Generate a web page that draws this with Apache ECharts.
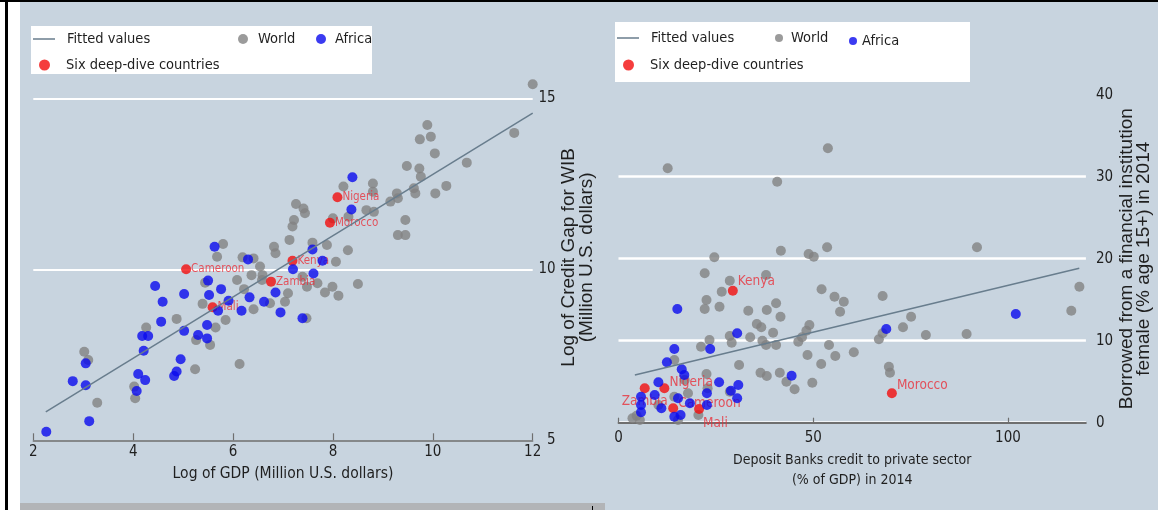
<!DOCTYPE html>
<html>
<head>
<meta charset="utf-8">
<title>Credit gap and borrowing</title>
<script src="https://cdn.jsdelivr.net/npm/echarts@6/dist/echarts.min.js"></script>
<style>
  html, body { margin: 0; padding: 0; background: #fff; }
  #chart { width: 1158px; height: 510px; }
</style>
</head>
<body>
<div id="chart"></div>
<script>
// ---- Left panel: log GDP vs log credit gap for women-owned businesses ----
const worldGdpGap = [
  [12.00,15.41],[11.63,13.99],[9.89,14.22],[9.74,13.80],[9.96,13.88],[10.04,13.39],[10.68,13.12],
  [10.27,12.44],[9.48,13.02],[9.73,12.95],[9.76,12.71],[9.62,12.37],[9.65,12.22],[10.05,12.22],
  [9.28,12.22],[9.15,11.98],[9.30,12.08],[8.80,12.51],[8.80,12.27],[8.67,11.73],[8.82,11.68],
  [9.45,11.44],[9.45,11.00],[9.30,11.00],[8.21,12.42],[8.00,11.49],[8.31,11.54],[7.26,11.91],
  [7.41,11.78],[7.44,11.64],[7.22,11.44],[7.19,11.25],[7.13,10.86],[7.59,10.78],[7.88,10.71],
  [8.30,10.56],[6.82,10.66],[6.85,10.47],[5.68,10.37],[6.19,10.35],[6.41,10.32],[6.54,10.08],
  [6.37,9.83],[6.08,9.69],[6.22,9.42],[6.58,9.69],[7.39,9.78],[7.48,9.49],[7.69,9.59],[7.84,9.32],
  [7.99,9.49],[8.11,9.23],[8.50,9.57],[8.06,10.22],[7.10,9.30],[7.04,9.05],[6.74,9.01],[6.41,8.83],
  [5.85,8.52],[5.65,8.30],[5.39,8.99],[4.87,8.55],[5.26,7.93],[5.54,7.79],[5.24,7.08],[6.13,7.23],
  [4.26,8.30],[3.02,7.59],[3.10,7.35],[4.02,6.57],[4.04,6.23],[3.28,6.10],[5.80,10.74],[6.59,9.83],
  [7.47,8.57],[5.44,9.61]
];
const africaGdpGap = [
  [8.39,12.69],[8.37,11.75],[5.63,10.66],[7.59,10.58],[6.30,10.29],[7.79,10.25],[7.20,10.00],
  [7.61,9.88],[5.50,9.67],[4.44,9.51],[5.02,9.28],[5.52,9.25],[5.76,9.42],[5.91,9.08],[6.33,9.18],
  [6.62,9.05],[6.85,9.32],[6.95,8.74],[6.17,8.79],[5.70,8.79],[4.59,9.05],[4.56,8.47],[5.02,8.20],
  [5.48,8.37],[5.30,8.08],[5.48,7.98],[4.18,8.05],[4.30,8.05],[4.21,7.62],[4.95,7.37],[4.87,7.01],
  [4.82,6.88],[4.10,6.94],[4.24,6.76],[4.07,6.44],[3.05,7.25],[2.79,6.73],[3.05,6.61],[3.12,5.56],
  [2.26,5.25],[7.39,8.57]
];
const fitGdpGap = [[2.25,5.83],[12.0,14.57]];

// ---- Right panel: bank credit to private sector vs women borrowing ----
const worldCreditBorrow = [
  [12.63,31.02],[53.76,33.46],[40.74,29.39],[24.60,20.17],[41.69,20.98],[48.81,20.57],[50.14,20.24],
  [53.56,21.39],[92.04,21.39],[22.13,18.22],[28.57,17.32],[37.89,18.01],[26.50,15.98],[22.59,14.96],
  [22.13,13.87],[25.93,14.15],[33.32,13.66],[38.07,13.74],[40.46,14.56],[41.59,12.93],[52.14,16.27],
  [55.46,15.37],[57.84,14.76],[56.89,13.54],[67.81,15.45],[75.12,12.93],[73.04,11.63],[78.92,10.70],
  [89.37,10.82],[116.25,13.66],[118.33,16.59],[35.51,12.04],[36.66,11.63],[33.81,10.41],[36.94,10.00],
  [37.89,9.48],[39.69,10.98],[40.46,9.48],[49.01,11.91],[48.24,11.22],[47.11,10.41],[46.16,9.88],
  [48.52,8.26],[52.04,7.16],[54.04,9.48],[55.66,8.13],[60.41,8.59],[66.85,10.17],[67.81,10.90],
  [69.42,6.83],[69.70,6.10],[28.57,10.57],[29.06,9.76],[30.96,7.04],[23.36,10.09],[21.18,9.27],
  [36.46,6.10],[38.07,5.70],[41.41,6.10],[43.11,5.00],[45.21,4.07],[49.76,4.88],[14.33,7.65],
  [22.59,5.94],[17.00,5.21],[17.84,3.59],[14.33,3.17],[4.65,0.85],[3.59,0.54],[5.49,0.33],
  [20.51,0.94],[15.28,0.33],[10.24,2.16],[22.88,4.20],[28.57,3.78]
];
const africaCreditBorrow = [
  [15.10,13.87],[30.47,10.90],[14.33,8.99],[23.54,8.99],[12.43,7.37],[16.23,6.51],[16.89,5.82],
  [10.24,4.93],[9.29,3.38],[5.78,3.17],[5.78,2.16],[5.78,1.27],[11.01,1.76],[15.28,2.98],
  [14.33,0.73],[15.94,0.94],[18.33,2.37],[22.70,3.59],[22.70,2.16],[25.83,4.93],[28.86,3.90],
  [30.76,4.60],[30.47,2.98],[44.44,5.73],[68.75,11.43],[102.0,13.26]
];
const fitCreditBorrow = [[4.2,5.82],[118.3,18.83]];

// ---- Six deep-dive countries (same order in every list) ----
const sixNames = ['Nigeria', 'Morocco', 'Cameroon', 'Kenya', 'Zambia', 'Mali'];
const sixGdp = [8.09, 7.94, 5.06, 7.19, 6.76, 5.59];
const sixGap = [12.11, 11.36, 10.00, 10.25, 9.64, 8.89];
const sixCredit = [11.78, 70.19, 14.04, 29.35, 6.73, 20.69];
const sixBorrow = [4.20, 3.59, 1.76, 16.10, 4.20, 1.67];

// ---- Axis ticks ----
const gdpTicks = { min: 2, max: 12, step: 2 };
const gapTicks = { min: 5, max: 15.7, step: 5 };
const creditTicks = { min: 0, max: 120, step: 50 };
const borrowTicks = { min: 0, max: 40, step: 10 };

// ---- Styling ----
const FONT = "'DejaVu Sans Condensed', 'Liberation Sans', Arial, sans-serif";
const FONT_V = "'Liberation Sans', Arial, sans-serif";
const BG = '#c8d4df';
const GREY = '#828282';
const BLUE = '#0a0aee';
const RED = '#f20c0c';
const LABEL_RED = '#e8303a';
const FIT = '#687d8d';
const AXIS = '#6f6f6f';
const TEXT = '#1f1f1f';

// label placement of the country names in the right panel
const rightLabelPlacement = {
  Kenya:    { position: 'right', distance: 0, offset: [0, -9] },
  Nigeria:  { position: [10, -1], align: 'left', verticalAlign: 'middle' },
  Zambia:   { position: 'bottom', distance: 1 },
  Cameroon: { position: 'right', distance: 0, offset: [0, -5] },
  Mali:     { position: [9, 19], align: 'left', verticalAlign: 'middle' },
  Morocco:  { position: 'right', distance: 0, offset: [0, -8] }
};

const sixLeft = sixNames.map((n, i) => ({ name: n, value: [sixGdp[i], sixGap[i]] }));
const sixRight = sixNames.map((n, i) => ({
  name: n, value: [sixCredit[i], sixBorrow[i]],
  label: Object.assign({ show: true }, rightLabelPlacement[n])
}));

const chart = echarts.init(document.getElementById('chart'), null, { renderer: 'canvas' });

function legendItem(name, left, top, iconW, iconH, pad, extra) {
  return Object.assign({
    data: [name], left: left, top: top, padding: 0, orient: 'horizontal',
    selectedMode: false, itemGap: 0, itemWidth: iconW, itemHeight: iconH,
    textStyle: { fontFamily: FONT, fontSize: 14.5, color: TEXT, lineHeight: 18, padding: pad }
  }, extra || {});
}
const lineIcon = { icon: 'rect' };

const option = {
  backgroundColor: '#ffffff',
  animation: false,
  graphic: [
    { type: 'rect', z: 0, shape: { x: 20, y: 2, width: 1138, height: 508 }, style: { fill: BG } },
    { type: 'rect', z: 0, shape: { x: 20, y: 503, width: 585, height: 7 }, style: { fill: '#b2b4b7' } },
    { type: 'rect', z: 0, shape: { x: 592, y: 506, width: 1, height: 4 }, style: { fill: '#000' } },
    { type: 'rect', z: 0, shape: { x: 0, y: 0, width: 1158, height: 2 }, style: { fill: '#000' } },
    { type: 'rect', z: 0, shape: { x: 5, y: 0, width: 3, height: 510 }, style: { fill: '#000' } },
    { type: 'rect', z: 1, shape: { x: 31, y: 26, width: 341, height: 48 }, style: { fill: '#fff' } },
    { type: 'rect', z: 1, shape: { x: 615, y: 22, width: 355, height: 60 }, style: { fill: '#fff' } }
  ],
  legend: [
    legendItem('Fitted values', 33, 30, 22, 1.5, [0, 0, 0, 7], lineIcon),
    legendItem('World', 238, 30, 10, 10, [0, 0, 0, 5]),
    legendItem('Africa', 316, 30, 10, 10, [0, 0, 0, 4]),
    legendItem('Six deep-dive countries', 39, 56, 11, 11, [0, 0, 0, 11]),
    legendItem('Fitted values', 617, 29, 22, 1.5, [0, 0, 0, 7], lineIcon),
    legendItem('World', 775, 29, 8, 8, [0, 0, 0, 3]),
    legendItem('Africa', 849, 29, 8, 8, [0, 0, 6, 0]),
    legendItem('Six deep-dive countries', 623, 56, 11, 11, [0, 0, 0, 11])
  ],
  grid: [
    { left: 33.3, top: 74.4, width: 499.4, bottom: 69.7, containLabel: false },
    { left: 618.5, top: 94.7, width: 467.4, bottom: 87.3, containLabel: false }
  ],
  xAxis: [
    {
      gridIndex: 0, type: 'value', min: gdpTicks.min, max: gdpTicks.max, interval: gdpTicks.step,
      name: 'Log of GDP (Million U.S. dollars)', nameLocation: 'middle', nameGap: 23,
      nameTextStyle: { fontFamily: FONT, fontSize: 15.5, color: TEXT, lineHeight: 19 },
      axisLine: { show: true, lineStyle: { color: AXIS, width: 1.5 } },
      axisTick: { show: true, inside: true, length: 7, lineStyle: { color: AXIS, width: 1.2 } },
      axisLabel: { margin: 4, fontFamily: FONT, fontSize: 15, color: TEXT },
      splitLine: { show: false }
    },
    {
      gridIndex: 1, type: 'value', min: creditTicks.min, max: creditTicks.max, interval: creditTicks.step,
      offset: 3,
      name: 'Deposit Banks credit to private sector\n(% of GDP) in 2014', nameLocation: 'middle', nameGap: 25,
      nameTextStyle: { fontFamily: FONT, fontSize: 14, color: TEXT, lineHeight: 19.5 },
      axisLine: { show: true, lineStyle: { color: AXIS, width: 1.8 } },
      axisTick: { show: true, inside: true, length: 5, lineStyle: { color: AXIS, width: 1.2 } },
      axisLabel: { margin: 5, fontFamily: FONT, fontSize: 15, color: TEXT, showMaxLabel: false },
      splitLine: { show: false }
    }
  ],
  yAxis: [
    {
      gridIndex: 0, type: 'value', position: 'right', min: gapTicks.min, max: gapTicks.max, interval: gapTicks.step,
      name: 'Log of Credit Gap for WIB\n(Million U.S. dollars)', nameLocation: 'middle', nameRotate: 90, nameGap: 26,
      nameTextStyle: { fontFamily: FONT_V, fontSize: 19, color: TEXT, lineHeight: 18 },
      axisLine: { show: false }, axisTick: { show: false },
      axisLabel: { align: 'right', margin: 23, fontFamily: FONT, fontSize: 15, color: TEXT, showMaxLabel: false },
      splitLine: { show: true, showMinLine: false, showMaxLine: false, lineStyle: { color: '#ffffff', width: 2 } }
    },
    {
      gridIndex: 1, type: 'value', position: 'right', min: borrowTicks.min, max: borrowTicks.max, interval: borrowTicks.step,
      name: 'Borrowed from a financial institution\nfemale (% age 15+) in 2014', nameLocation: 'middle', nameRotate: 90, nameGap: 29,
      nameTextStyle: { fontFamily: FONT_V, fontSize: 19, color: TEXT, lineHeight: 17 },
      axisLine: { show: false }, axisTick: { show: false },
      axisLabel: { align: 'left', margin: 10, fontFamily: FONT, fontSize: 15, color: TEXT },
      splitLine: { show: true, showMinLine: true, showMaxLine: false, lineStyle: { color: '#ffffff', width: 2.5 } }
    }
  ],
  series: [
    // left panel
    { name: 'World', type: 'scatter', xAxisIndex: 0, yAxisIndex: 0, z: 2, clip: false,
      symbol: 'circle', symbolSize: 10, itemStyle: { color: GREY }, data: worldGdpGap },
    { name: 'Six deep-dive countries', type: 'scatter', xAxisIndex: 0, yAxisIndex: 0, z: 3, clip: false,
      symbol: 'circle', symbolSize: 10, itemStyle: { color: RED }, data: sixLeft,
      label: { show: true, position: 'right', distance: 0, formatter: '{b}',
               fontFamily: FONT, fontSize: 11.5, color: LABEL_RED } },
    { name: 'Africa', type: 'scatter', xAxisIndex: 0, yAxisIndex: 0, z: 4, clip: false,
      symbol: 'circle', symbolSize: 10, itemStyle: { color: BLUE }, data: africaGdpGap },
    { name: 'Fitted values', type: 'line', xAxisIndex: 0, yAxisIndex: 0, z: 5,
      symbol: 'none', lineStyle: { color: FIT, width: 1.5 }, itemStyle: { color: FIT }, data: fitGdpGap },
    // right panel
    { name: 'World', type: 'scatter', xAxisIndex: 1, yAxisIndex: 1, z: 2, clip: false,
      symbol: 'circle', symbolSize: 10, itemStyle: { color: GREY }, data: worldCreditBorrow },
    { name: 'Six deep-dive countries', type: 'scatter', xAxisIndex: 1, yAxisIndex: 1, z: 3, clip: false,
      symbol: 'circle', symbolSize: 10, itemStyle: { color: RED }, data: sixRight,
      label: { show: true, formatter: '{b}', fontFamily: FONT, fontSize: 13.5, color: LABEL_RED } },
    { name: 'Africa', type: 'scatter', xAxisIndex: 1, yAxisIndex: 1, z: 4, clip: false,
      symbol: 'circle', symbolSize: 10, itemStyle: { color: BLUE }, data: africaCreditBorrow },
    { name: 'Fitted values', type: 'line', xAxisIndex: 1, yAxisIndex: 1, z: 5,
      symbol: 'none', lineStyle: { color: FIT, width: 1.5 }, itemStyle: { color: FIT }, data: fitCreditBorrow }
  ]
};

chart.setOption(option);
</script>
</body>
</html>
